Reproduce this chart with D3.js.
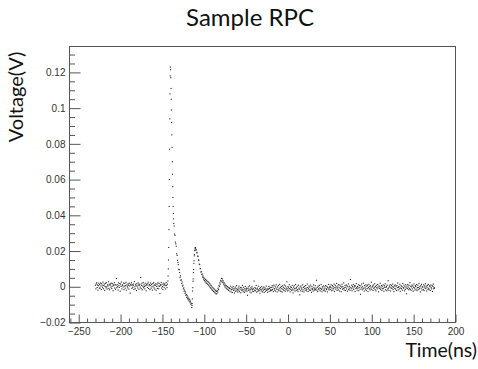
<!DOCTYPE html>
<html>
<head>
<meta charset="utf-8">
<script src="https://cdn.jsdelivr.net/npm/d3@7"></script>
<style>
  html, body { margin: 0; padding: 0; background: #fff; }
  svg { display: block; }
</style>
</head>
<body>
<svg id="chart" width="478" height="369"></svg>
<script>
// ---------------- DATA ----------------
const title = "Sample RPC";
const xLabel = "Time(ns)";
const yLabel = "Voltage(V)";
const xTicks = [-250, -200, -150, -100, -50, 0, 50, 100, 150, 200];
const yTicks = [-0.02, 0, 0.02, 0.04, 0.06, 0.08, 0.1, 0.12];

// oscilloscope sampling (ns)
const sampleStep = 0.5;

// baseline before the pulse: starts at -230 ns, values in mV
const baseLeftStart = -230;
const baseLeft = [
  0.9, -1.2, 1.6, 2.3, -0.4, 1.0, -1.9, 0.6, 2.0, -0.7,
  1.2, -0.8, 2.1, 0.4, -1.5, 1.8, 0.9, -0.3, 2.6, -1.1,
  0.7, 1.5, -2.0, 0.2, 1.9, -0.6, 2.3, 0.0, -1.3, 1.1,
  0.5, 2.8, -0.9, 1.4, -1.7, 0.8, 1.6, -0.2, 2.0, -1.0,
  0.3, 1.7, -2.2, 1.0, 0.6, 2.4, -0.7, 1.3, -1.4, 0.9,
  4.6, -0.5, 1.2, 0.1, -1.8, 2.2, 0.7, -0.4, 1.8, -2.5,
  1.5, 0.2, 2.7, -1.2, 0.8, 1.0, -0.1, 2.1, -1.6, 0.4,
  1.9, -0.8, 0.6, 2.5, -1.9, 1.1, 0.3, -0.6, 1.7, 0.9,
  -1.3, 2.0, 0.5, -3.6, 1.4, 0.8, 2.3, -0.9, 1.2, -0.3,
  0.7, 1.6, -1.5, 2.9, 0.0, -1.1, 1.3, 0.6, -2.1, 1.8,
  0.4, -0.7, 2.2, 1.0, -1.4, 0.9, 1.5, -0.2, 5.2, -1.0,
  0.8, 1.9, -1.7, 0.3, 2.4, -0.5, 1.1, 0.2, -1.2, 2.0,
  0.6, -2.3, 1.4, 0.9, -0.4, 1.7, 2.6, -1.0, 0.5, 1.2,
  -1.6, 0.7, 2.1, -0.8, 1.3, 0.0, -1.9, 1.8, 0.4, 2.3,
  -0.6, 1.0, -1.3, 0.8, 1.6, -2.0, 0.2, 1.5, -0.9, 2.2,
  0.5, -1.1, 1.9, 0.3, -3.8, 1.2, 0.7, 2.5, -0.7, 1.4,
  0.1, -1.5, 2.0, 0.9, -0.3, 1.1, 1.7, -1.2, 0.6, 2.4,
  0.8, -0.5
];

// pulse region: [time ns, mV]
const pulse = [
  [-144, 1.5], [-143.5, 3.2], [-143.25, 6], [-143, 10], [-142.75, 15], [-142.5, 22],
  [-142.25, 32], [-142, 45], [-141.75, 60], [-141.5, 77], [-141.25, 94], [-141, 108],
  [-140.75, 118], [-140.5, 123], [-140.25, 121.5], [-140, 117], [-139.75, 111], [-139.5, 105],
  [-139.25, 99], [-139, 92], [-138.75, 85], [-138.5, 78], [-138.25, 70], [-138, 63],
  [-137.75, 56], [-137.5, 50], [-137.25, 45], [-137, 41], [-136.75, 38], [-136.5, 35.5],
  [-136, 34], [-135.5, 29.5], [-135, 28.8], [-134.5, 25], [-134, 24], [-133.5, 22.7],
  [-133, 18.5], [-132.5, 17.6], [-132, 14.8], [-131.5, 13.6], [-131, 12.4], [-130.5, 9.8],
  [-130, 9.5], [-129.5, 8], [-129, 5.2], [-128.5, 6.1], [-128, 3.6], [-127.5, 3.9],
  [-127, 1.8], [-126.5, 2.7], [-126, 0.4], [-125.5, 0.9], [-125, -1.2], [-124.5, -0.6],
  [-124, -2.5], [-123.5, -1.8], [-123, -3.7], [-122.5, -2.9], [-122, -4.8], [-121.5, -4.3],
  [-121, -5.9], [-120.5, -5.0], [-120, -6.7], [-119.5, -5.8], [-119, -7.4], [-118.5, -6.5],
  [-118, -8.1], [-117.5, -7.2], [-117, -8.9], [-116.5, -8.0], [-116, -9.8], [-115.5, -9.2],
  [-115, -11.6], [-114.75, -10.5], [-114.5, -9.4], [-114.25, -6.8], [-114, -2.4], [-113.75, -0.5],
  [-113.5, 3.1], [-113.25, 4.4], [-113, 7.9], [-112.75, 9.6], [-112.5, 13.1], [-112.25, 14.6],
  [-112, 17.3], [-111.75, 18.1], [-111.5, 20.2], [-111.25, 20.5], [-111, 21.8], [-110.75, 21.5],
  [-110.5, 22.0], [-110, 20.7], [-109.5, 20.6], [-109, 19.1], [-108.5, 19.0], [-108, 17.2],
  [-107.5, 17.0], [-107, 15.0], [-106.5, 14.8], [-106, 12.7], [-105.5, 12.4], [-105, 10.3],
  [-104.5, 10.1], [-104, 8.2], [-103.5, 8.5], [-103, 6.8], [-102.5, 7.2], [-102, 5.4],
  [-101.5, 6.1], [-101, 4.3], [-100.5, 5.2], [-100, 3.5], [-99.5, 4.5], [-99, 2.8],
  [-98.5, 4.0], [-98, 2.2], [-97.5, 3.6], [-97, 1.9], [-96.5, 3.1], [-96, 1.4],
  [-95.5, 2.8], [-95, 0.9], [-94.5, 2.3], [-94, 0.3], [-93.5, 1.7], [-93, -0.4],
  [-92.5, 1.0], [-92, -0.9], [-91.5, 0.5], [-91, -1.6], [-90.5, -0.2], [-90, -2.1],
  [-89.5, -0.7], [-89, -2.6], [-88.5, -1.1], [-88, -3.0], [-87.5, -1.6], [-87, -3.5],
  [-86.5, -2.2], [-86, -4.0], [-85.5, -2.6], [-85, -3.9], [-84.5, -2.1], [-84, -3.0],
  [-83.5, -0.8], [-83, -1.6], [-82.5, 0.7], [-82, 0.1], [-81.5, 2.2], [-81, 1.4],
  [-80.5, 3.6], [-80, 2.8], [-79.5, 4.7], [-79, 3.2], [-78.5, 4.4], [-78, 2.5],
  [-77.5, 3.4], [-77, 1.5], [-76.5, 2.4], [-76, 0.5], [-75.5, 1.6], [-75, -0.2],
  [-74.5, 0.9], [-74, -0.8], [-73.5, 0.5], [-73, -1.2], [-72.5, 0.1], [-72, -1.6],
  [-71.5, -0.3], [-71, -2.0], [-70.5, -0.6]
];

// baseline after the pulse: starts at -70 ns, values in mV
const baseRightStart = -70;
const baseRight = [
  -0.8, -2.4, -1.1, 0.3, -2.9, -1.6, -0.5, -3.2, -1.3, 0.1,
  -2.0, -0.9, -3.5, -1.8, -0.2, -2.6, -1.0, 0.6, -2.2, -1.5,
  -3.0, -0.7, -1.9, 0.4, -2.7, -1.2, -0.4, -3.3, -1.7, -0.6,
  -2.1, 0.8, -1.4, -2.8, -0.3, -1.8, -3.1, -1.0, 0.2, -2.3,
  -1.6, -0.8, -2.5, -4.8, -1.1, -0.1, -2.0, -1.3, 0.5, -2.9,
  -1.7, -0.6, -3.4, -1.2, 0.0, -2.4, -1.5, -0.9, -2.7, 3.2,
  -1.9, -0.4, -2.2, -1.0, 0.7, -3.0, -1.4, -0.7, -2.6, -1.8,
  0.3, -2.1, -1.1, -3.6, -0.5, -1.6, -2.3, 0.1, -1.3, -2.8,
  -0.8, -1.9, -0.2, -3.2, -1.5, -0.6, -2.5, -1.2, 0.4, -2.0,
  -1.7, -3.1, -0.9, -1.4, 0.2, -2.6, -1.0, -0.3, -2.2, -1.6,
  -0.4, -2.1, 0.6, -1.5, -0.2, -2.7, 0.9, -1.0, -1.8, 0.3,
  -2.4, -0.6, 1.1, -1.3, -2.9, -0.1, -1.6, 0.7, -2.2, -0.8,
  1.4, -1.9, -0.5, -2.6, 0.2, -1.1, -3.0, 0.5, -1.4, -0.3,
  -2.0, 1.0, -0.9, -2.5, 0.4, -1.7, -0.7, 2.8, -1.2, -2.3,
  0.1, -0.6, -1.9, 1.2, -1.0, -2.8, 0.0, -1.5, -0.4, -2.1,
  0.8, -1.3, -3.4, -0.2, -1.8, 0.6, -0.9, -2.4, 1.3, -1.1,
  -0.5, -2.0, 0.3, -1.6, -2.7, 0.9, -0.8, -1.4, -4.5, -0.1,
  -2.2, 0.5, -1.2, -0.6, -2.5, 1.1, -1.7, -0.3, -2.9, 0.2,
  -1.0, -1.9, 0.7, -0.7, -2.3, -1.4, 1.5, -0.4, -2.6, -1.1,
  0.4, -1.8, -0.2, -2.1, 0.9, -1.3, -3.1, 0.1, -0.9, -1.6,
  -2.4, 1.0, -0.5, -1.2, -2.0, 0.6, -1.5, -0.8, 3.6, -1.9,
  -0.3, -2.7, 0.3, -1.1, -1.7, 0.8, -0.6, -2.3, -1.0, 1.2,
  -1.4, -2.8, 0.0, -0.7, -1.9, 0.5, -2.2, -1.3, -0.1, -2.5,
  0.7, -1.0, -1.6, 0.2, -2.9, -0.4, -1.2, 1.3, -1.8, -0.6,
  0.2, -1.5, -0.3, 1.1, -2.2, -0.8, 0.6, -1.9, 0.0, -1.1,
  1.5, -2.6, -0.4, 0.8, -1.3, -0.1, 1.9, -2.0, -0.7, 0.4,
  -1.7, 1.2, -0.5, -2.4, 0.9, -1.0, 0.3, -2.8, -0.2, 1.4,
  -1.4, 0.1, -0.9, 2.2, -1.8, -0.6, 0.7, -2.1, -0.3, 1.0,
  -1.2, 0.5, -2.5, 0.0, 1.6, -1.6, -0.8, 0.3, -2.0, 4.1,
  -0.4, -1.1, 0.9, -2.3, 0.2, -0.7, 1.3, -1.5, -0.1, 0.6,
  -2.7, 0.4, -1.0, 1.8, -0.5, -1.9, 0.1, -0.9, 1.1, -2.2,
  -0.3, 0.8, -1.4, -4.2, 0.5, -0.6, 1.5, -1.7, 0.0, -1.2,
  2.0, -0.8, -2.4, 0.7, -0.2, -1.3, 1.2, -2.0, 0.3, -1.0,
  0.9, -2.6, -0.4, 1.4, -1.1, 0.2, -1.8, 0.6, -0.7, 2.5,
  -1.5, -0.1, 0.4, -2.1, 1.0, -0.9, -0.3, 1.7, -1.6, 0.1,
  -2.3, 0.8, -0.5, -1.2, 1.3, -0.2, -2.8, 0.5, -1.0, 0.0,
  1.9, -1.4, -0.6, 0.7, -2.0, 0.3, -1.1, 1.1, -0.8, -2.5,
  0.6, -0.3, 1.6, -1.7, -0.4, 0.2, -2.2, 0.9, -1.3, 3.4,
  -0.7, -1.9, 0.4, -0.1, 1.2, -2.4, -0.6, 0.8, -1.0, 0.0,
  1.5, -1.6, -0.2, -2.7, 0.5, -0.9, 1.0, -1.3, 0.3, -2.1,
  0.7, -0.5, 2.1, -1.8, -0.3, 0.1, -1.2, 1.4, -2.6, -0.7,
  0.6, -1.1, 0.2, -1.9, 1.8, -0.4, -0.8, 0.9, -2.3, 0.0,
  -1.5, 1.1, -0.6, -3.9, 0.4, -1.0, 1.3, -0.2, -1.7, 0.8,
  -0.9, 2.3, -1.4, 0.3, -2.0, -0.1, 1.0, -1.2, 0.5, -2.5,
  -0.3, 1.6, -0.7, -1.8, 0.7, 0.1, -1.3, 1.2, -2.2, -0.5,
  0.9, -1.6, -0.4, 1.9, -1.1, 0.2, -2.9, 0.6, -0.8, 1.4,
  -1.9, 0.0, -0.2, -1.5, 1.1, -2.1, 0.4, -0.6, 1.7, -1.0,
  0.3, -2.4, -0.3, 0.8, -1.4, 1.3, -0.9, -1.7, 0.5, 0.1,
  -2.0, 1.0, -0.5, -1.2, 0.7, -2.6, 0.2, 1.5, -1.1, -0.4,
  -0.8
];

// ---------------- BUILD POINTS ----------------
const points = [];
baseLeft.forEach((v, i) => points.push({ t: baseLeftStart + i * sampleStep, v: v / 1000 }));
pulse.forEach(([t, v]) => points.push({ t, v: v / 1000 }));
baseRight.forEach((v, i) => points.push({ t: baseRightStart + i * sampleStep, v: v / 1000 }));

// ---------------- CHART ----------------
const svg = d3.select("#chart");
const frameColor = "#555";
const textColor = "#333";

const x = d3.scaleLinear().domain([-261, 200]).range([69.5, 455.5]);
const y = d3.scaleLinear().domain([-0.02, 0.1345]).range([322.5, 46.5]);

// data points
svg.append("g")
  .selectAll("rect")
  .data(points)
  .join("rect")
  .attr("x", d => x(d.t) - 0.55)
  .attr("y", d => y(d.v) - 0.55)
  .attr("width", 1.1)
  .attr("height", 1.1)
  .attr("fill", "#222");

// frame
svg.append("rect")
  .attr("x", x.range()[0]).attr("y", y.range()[1])
  .attr("width", x.range()[1] - x.range()[0])
  .attr("height", y.range()[0] - y.range()[1])
  .attr("fill", "none").attr("stroke", frameColor).attr("stroke-width", 1);

// x axis
const xMinor = d3.range(-260, 201, 10).filter(v => v % 50 !== 0);
const gxMinor = svg.append("g").attr("transform", `translate(0,${y.range()[0]})`)
  .call(d3.axisBottom(x).tickValues(xMinor).tickSize(-4).tickFormat(""));
const gx = svg.append("g").attr("transform", `translate(0,${y.range()[0]})`)
  .call(d3.axisBottom(x).tickValues(xTicks).tickSize(-8).tickPadding(5).tickFormat(d3.format("d")));

// y axis
const yMinor = d3.range(-0.02, 0.1345, 0.005).filter(v => Math.abs(Math.round(v / 0.02) * 0.02 - v) > 1e-6);
const gyMinor = svg.append("g").attr("transform", `translate(${x.range()[0]},0)`)
  .call(d3.axisLeft(y).tickValues(yMinor).tickSize(-5.5).tickFormat(""));
const gy = svg.append("g").attr("transform", `translate(${x.range()[0]},0)`)
  .call(d3.axisLeft(y).tickValues(yTicks).tickSize(-11).tickPadding(4)
    .tickFormat(d => d3.format("~g")(+d.toFixed(4))));

[gx, gy, gxMinor, gyMinor].forEach(g => {
  g.select(".domain").remove();
  g.selectAll(".tick line").attr("stroke", frameColor);
  g.selectAll(".tick text")
    .attr("fill", textColor)
    .attr("font-family", "'Liberation Sans', Arial, sans-serif")
    .attr("font-size", 10);
});

// titles
svg.append("text")
  .attr("x", 250).attr("y", 26)
  .attr("text-anchor", "middle")
  .attr("font-family", "Lato, 'Open Sans', sans-serif")
  .attr("font-size", 24)
  .attr("fill", "#111")
  .text(title);

svg.append("text")
  .attr("x", 477).attr("y", 357)
  .attr("text-anchor", "end")
  .attr("font-family", "Lato, 'Open Sans', sans-serif")
  .attr("font-size", 19.5)
  .attr("fill", "#111")
  .text(xLabel);

svg.append("text")
  .attr("transform", "translate(23,97) rotate(-90)")
  .attr("text-anchor", "middle")
  .attr("font-family", "Lato, 'Open Sans', sans-serif")
  .attr("font-size", 20)
  .attr("fill", "#111")
  .text(yLabel);
</script>
</body>
</html>
